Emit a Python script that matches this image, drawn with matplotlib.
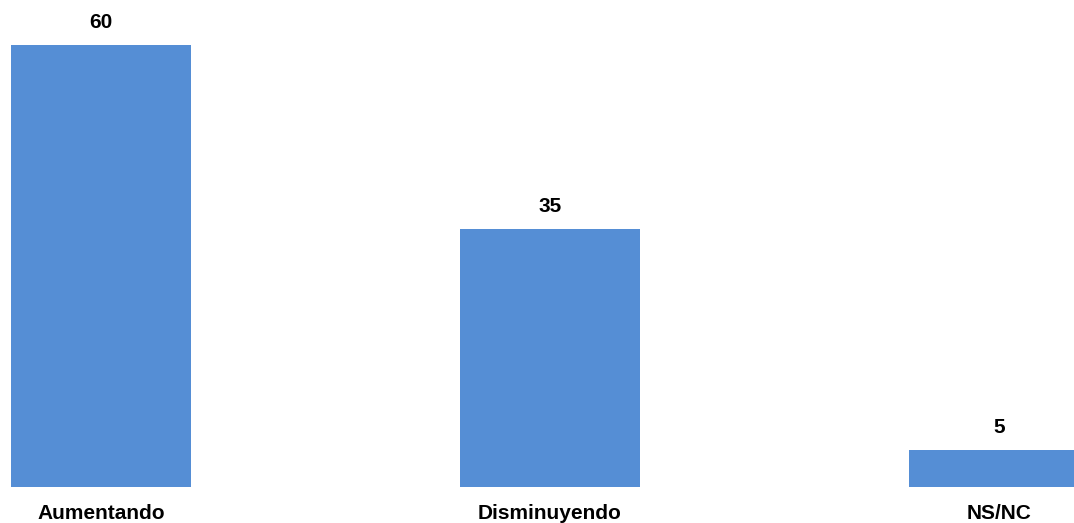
import matplotlib
matplotlib.use("Agg")
import matplotlib.pyplot as plt

categories = ["Aumentando", "Disminuyendo", "NS/NC"]
values = [60, 35, 5]
bar_color = "#558ED5"

plt.rcParams['font.family'] = ['Liberation Sans', 'DejaVu Sans']

fig = plt.figure(figsize=(10.74, 5.23), dpi=100)
ax = fig.add_axes([0, 1 - 487 / 523, 1, (487 - 45) / 523])
x = list(range(len(categories)))
bars = ax.bar(x, values, width=0.4, color=bar_color)
ax.set_xlim(-0.2245, 2.167)
ax.set_ylim(0, 60)
for b, v in zip(bars, values):
    ax.annotate(f"{v}", (b.get_x() + b.get_width() / 2, v), xytext=(0, 16.5),
                textcoords="offset points", ha="center", va="center",
                fontsize=15, fontweight="bold", annotation_clip=False)
ax.set_xticks(x)
ax.set_xticklabels(categories, fontsize=15, fontweight="bold")
ax.tick_params(axis="x", length=0, pad=12)
ax.set_yticks([])
for s in ax.spines.values():
    s.set_visible(False)
fig.savefig("out.png", dpi=100, facecolor="white")
